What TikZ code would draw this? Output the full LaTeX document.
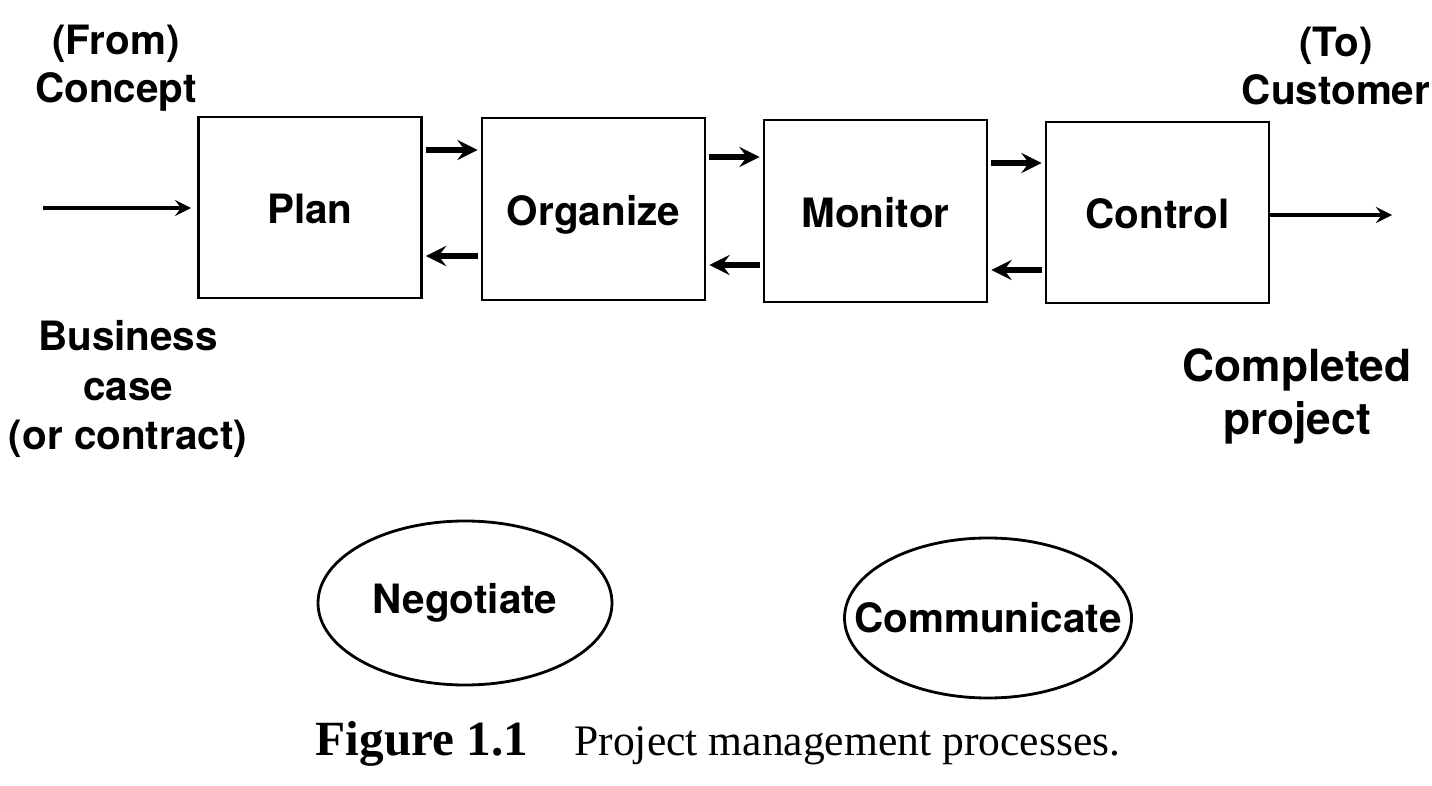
\documentclass[tikz,border=0pt]{standalone}
\usepackage{fontspec}
\setmainfont{Liberation Serif}
\setsansfont{TeX Gyre Heros}
\usetikzlibrary{shapes.geometric, arrows, positioning}
\tikzstyle{process} = [rectangle, minimum width=2.23cm, minimum height=1.81cm, text centered, text height=2.5ex, text depth=0.5ex, draw=black, line width=0.8pt, font=\sffamily\bfseries\fontsize{11.5}{14}\selectfont]
\tikzstyle{activity} = [ellipse, inner sep=0pt, text centered, draw=black, line width=0.8pt, font=\sffamily\bfseries\fontsize{11.5}{14}\selectfont]
\tikzstyle{endlabel} = [align=center, font=\sffamily\bfseries\fontsize{11.5}{13.5}\selectfont]
\tikzstyle{arrow} = [line width=1.5pt,->,>=stealth]
\tikzstyle{thinarrow} = [line width=1pt,->,>=stealth]

\begin{document}
\begin{tikzpicture}
                \useasboundingbox (0,0) rectangle (14.32,7.85);
                % Nodes
                \node (plan) [process] at (3.10,5.775) {Plan};
                \node (organize) [process, minimum height=1.82cm] at (5.935,5.76) {Organize};
                \node (monitor) [process, minimum height=1.82cm] at (8.755,5.74) {Monitor};
                \node (control) [process] at (11.575,5.725) {Control};

                \node (concept) [endlabel] at (1.16,7.17) {(From)\\Concept};
                \node (customer) [endlabel] at (13.36,7.19) {(To)\\Customer};
                \node (business) [endlabel, font=\sffamily\bfseries\fontsize{11.5}{14}\selectfont] at (1.28,3.96) {Business\\case\\(or contract)};
                \node (completed) [endlabel, font=\sffamily\bfseries\fontsize{12.6}{15}\selectfont] at (12.97,3.885) {Completed\\project};

                \node (negotiate) [activity, minimum width=2.94cm, minimum height=1.64cm] at (4.65,1.82) {\makebox[0pt]{Negotiate}};
                \node (communicate) [activity, minimum width=2.87cm, minimum height=1.60cm] at (9.88,1.67) {\makebox[0pt]{Communicate}};

                \node (figlabel) [anchor=base west, inner sep=0pt, font=\bfseries\fontsize{14}{16}\selectfont] at (3.15,0.30) {Figure 1.1};
                \node (figtitle) [anchor=base west, inner sep=0pt, font=\fontsize{12.4}{15}\selectfont] at ([xshift=0.45cm]figlabel.base east) {Project management processes.};

                % Arrows
                \coordinate (start) at (0.43,5.77);
                \coordinate (finish) at (13.92,5.70);
                \draw [thinarrow] (start) -- ([xshift=-0.06cm]plan.west |- start);
                \draw [thinarrow] (control.east |- finish) -- (finish);

                \draw [arrow] ([xshift=0.03cm]plan.east |- 0,6.35) -- ([xshift=-0.03cm]organize.west |- 0,6.35);
                \draw [arrow] ([xshift=-0.03cm]organize.west |- 0,5.29) -- ([xshift=0.03cm]plan.east |- 0,5.29);
                \draw [arrow] ([xshift=0.03cm]organize.east |- 0,6.28) -- ([xshift=-0.03cm]monitor.west |- 0,6.28);
                \draw [arrow] ([xshift=-0.03cm]monitor.west |- 0,5.20) -- ([xshift=0.03cm]organize.east |- 0,5.20);
                \draw [arrow] ([xshift=0.03cm]monitor.east |- 0,6.22) -- ([xshift=-0.03cm]control.west |- 0,6.22);
                \draw [arrow] ([xshift=-0.03cm]control.west |- 0,5.15) -- ([xshift=0.03cm]monitor.east |- 0,5.15);
            \end{tikzpicture}
\end{document}
